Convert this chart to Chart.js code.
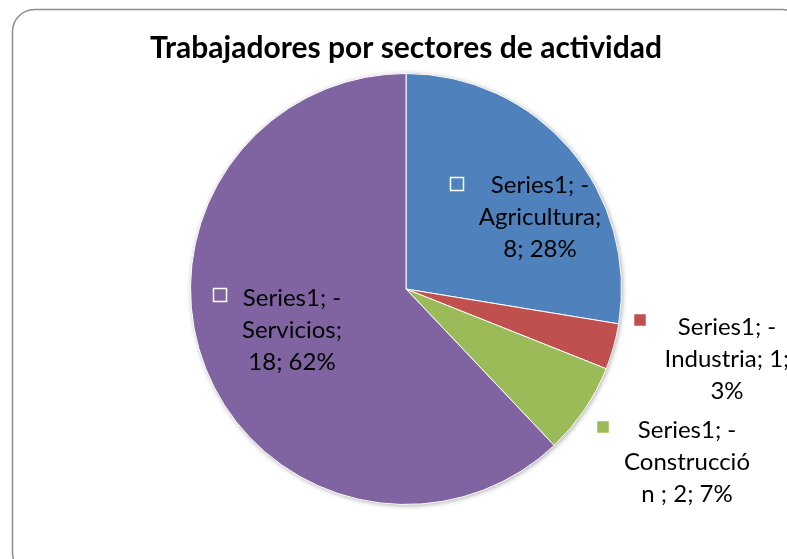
<!DOCTYPE html>
<html>
<head>
<meta charset="utf-8">
<script src="https://cdn.jsdelivr.net/npm/chart.js@4.4.0/dist/chart.umd.min.js"></script>
<style>
  body { margin: 0; background: #fff; }
  canvas { display: block; }
</style>
</head>
<body>
<canvas id="myChart" width="787" height="559"></canvas>
<script>
// data
const categories = ['Agricultura', 'Industria', 'Construcción', 'Servicios'];
const values = [8, 1, 2, 18];
const percents = ['28%', '3%', '7%', '62%'];
const labelLines = [
  ['Series1; -', 'Agricultura;', '8; 28%'],
  ['Series1; -', 'Industria; 1;', '3%'],
  ['Series1; -', 'Construcció', 'n ; 2; 7%'],
  ['Series1; -', 'Servicios;', '18; 62%']
];
const colors = ['#4F81BD', '#C0504D', '#9BBB59', '#8064A2'];
const titleText = 'Trabajadores por sectores de actividad';

// frame + title
const framePlugin = {
  id: 'frame',
  beforeDraw(chart) {
    const ctx = chart.ctx;
    ctx.save();
    ctx.fillStyle = '#fff';
    ctx.fillRect(0, 0, chart.width, chart.height);
    ctx.strokeStyle = '#8c8c8c';
    ctx.lineWidth = 1.5;
    ctx.beginPath();
    ctx.roundRect(12.5, 9.5, 792, 565, 22);
    ctx.stroke();
    ctx.fillStyle = '#000';
    ctx.font = 'bold 30px Lato';
    ctx.textAlign = 'center';
    ctx.textBaseline = 'alphabetic';
    ctx.fillText(titleText, 406, 58);
    ctx.restore();
  },
  beforeDatasetsDraw(chart) {
    // soft shadow under the pie
    const arc = chart.getDatasetMeta(0).data[0];
    const ctx = chart.ctx;
    ctx.save();
    ctx.shadowColor = 'rgba(0,0,0,0.35)';
    ctx.shadowBlur = 5;
    ctx.shadowOffsetX = 1;
    ctx.shadowOffsetY = 1;
    ctx.fillStyle = '#fff';
    ctx.beginPath();
    ctx.arc(arc.x, arc.y, arc.outerRadius, 0, Math.PI * 2);
    ctx.fill();
    ctx.restore();
  }
};

// data labels with legend key, placed relative to pie centre
const labelPlugin = {
  id: 'sliceLabels',
  afterDatasetsDraw(chart, args, opts) {
    const ctx = chart.ctx;
    const arc0 = chart.getDatasetMeta(0).data[0];
    const cx = arc0.x, cy = arc0.y;
    ctx.save();
    ctx.font = '24px Lato';
    ctx.textAlign = 'center';
    ctx.textBaseline = 'middle';
    labelLines.forEach((lines, i) => {
      const p = opts.spots[i];
      lines.forEach((t, j) => {
        ctx.fillStyle = '#000';
        ctx.fillText(t, cx + p.tx, cy + p.ty + (j - 1) * 32);
      });
      ctx.fillStyle = colors[i];
      ctx.strokeStyle = '#fff';
      ctx.lineWidth = 1.5;
      ctx.fillRect(cx + p.kx - 6.5, cy + p.ky - 6.5, 13, 13);
      ctx.strokeRect(cx + p.kx - 6.5, cy + p.ky - 6.5, 13, 13);
    });
    ctx.restore();
  }
};

const config = {
  type: 'pie',
  data: {
    labels: categories,
    datasets: [{
      data: values,
      backgroundColor: colors,
      borderColor: '#fff',
      borderWidth: 1
    }]
  },
  options: {
    responsive: false,
    animation: false,
    layout: { padding: { top: 73, bottom: 54, left: 190, right: 165 } },
    plugins: {
      legend: { display: false },
      tooltip: { enabled: false },
      title: { display: false },
      sliceLabels: {
        spots: [
          { tx: 134, ty: -72, kx: 51, ky: -105 },
          { tx: 321, ty: 70, kx: 234, ky: 31 },
          { tx: 281, ty: 173, kx: 197, ky: 138 },
          { tx: -114, ty: 41, kx: -186, ky: 6 }
        ]
      }
    }
  },
  plugins: [framePlugin, labelPlugin]
};

const myChart = new Chart(document.getElementById('myChart'), config);
</script>
</body>
</html>
